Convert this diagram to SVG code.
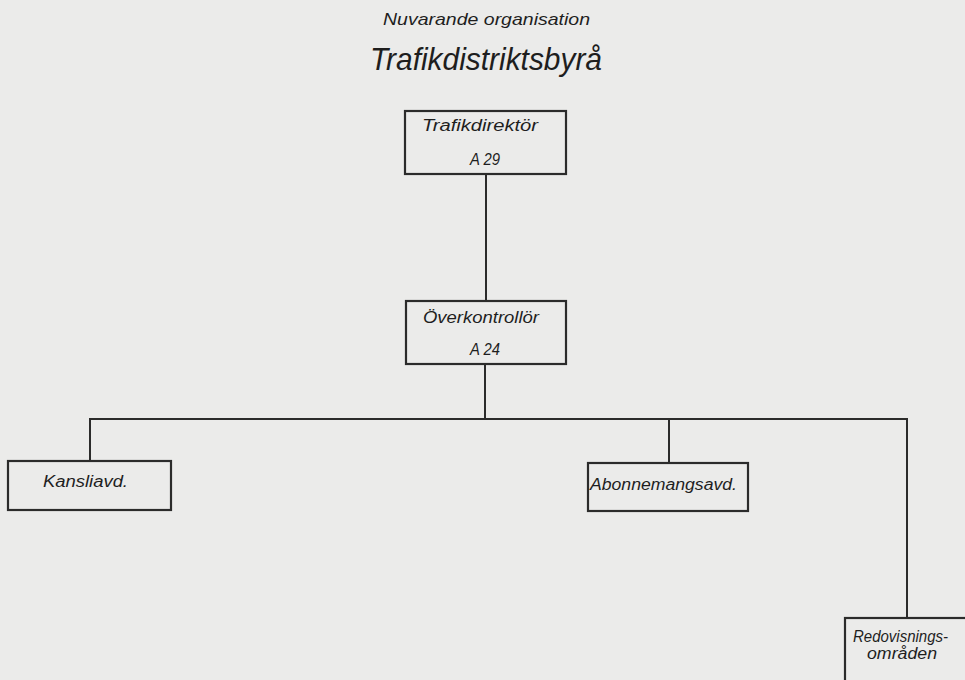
<svg xmlns="http://www.w3.org/2000/svg" width="965" height="680" viewBox="0 0 965 680">
<style>
.bg{fill:#ebebea}
.box{fill:none;stroke:#2b2b2b;stroke-width:2.2}
.ln{fill:none;stroke:#2b2b2b;stroke-width:2}
text{font-family:"Liberation Sans","DejaVu Sans",sans-serif;font-style:italic;fill:#1e1e1e}
.t{font-size:16px}
.title{font-size:32px}
.sub{font-size:17px}
</style>
<rect class="bg" x="0" y="0" width="965" height="680"/>
<g id="titles">
<text class="sub" x="383" y="25" textLength="207" lengthAdjust="spacingAndGlyphs">Nuvarande organisation</text>
<text class="title" x="370" y="70" textLength="232" lengthAdjust="spacingAndGlyphs">Trafikdistriktsbyrå</text>
</g>
<g id="connectors">
<path class="ln" d="M486,174 V301"/>
<path class="ln" d="M485,364 V419"/>
<path class="ln" d="M90,461 V419 H907 V618"/>
<path class="ln" d="M669,419 V463"/>
</g>
<g id="trafikdirektor">
<rect class="box" x="405" y="111" width="161" height="63"/>
<text class="t" x="422" y="131" textLength="116" lengthAdjust="spacingAndGlyphs">Trafikdirektör</text>
<text class="t" x="470" y="165" textLength="30" lengthAdjust="spacingAndGlyphs">A 29</text>
</g>
<g id="overkontrollor">
<rect class="box" x="406" y="301" width="160" height="63"/>
<text class="t" x="423" y="323" textLength="116" lengthAdjust="spacingAndGlyphs">Överkontrollör</text>
<text class="t" x="470" y="355" textLength="30" lengthAdjust="spacingAndGlyphs">A 24</text>
</g>
<g id="kansliavd">
<rect class="box" x="8" y="461" width="163" height="49"/>
<text class="t" x="43" y="487" textLength="85" lengthAdjust="spacingAndGlyphs">Kansliavd.</text>
</g>
<g id="abonnemangsavd">
<rect class="box" x="588" y="463" width="160" height="48"/>
<text class="t" x="590" y="490" textLength="147" lengthAdjust="spacingAndGlyphs">Abonnemangsavd.</text>
</g>
<g id="redovisningsomraden">
<rect class="box" x="845" y="618" width="140" height="80"/>
<text class="t" x="853" y="642" textLength="95" lengthAdjust="spacingAndGlyphs">Redovisnings-</text>
<text class="t" x="867" y="659" textLength="70" lengthAdjust="spacingAndGlyphs">områden</text>
</g>
</svg>
